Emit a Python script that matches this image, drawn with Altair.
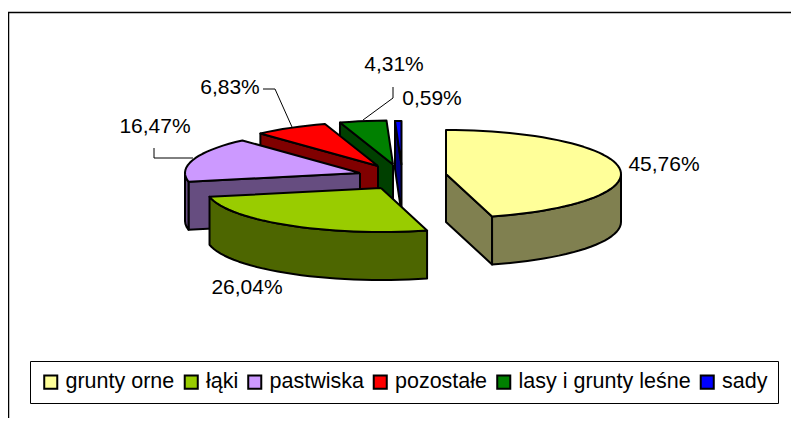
import math
import altair as alt
import pandas as pd

# Data
categories = ["grunty orne", "łąki", "pastwiska", "pozostałe", "lasy i grunty leśne", "sady"]
shares = [45.76, 26.04, 16.47, 6.83, 4.31, 0.59]
top_colors = ["#FFFF99", "#99CC00", "#CC99FF", "#FF0000", "#008000", "#0000FF"]
side_colors = ["#808050", "#4D6600", "#664D80", "#800000", "#004000", "#000080"]

# Layout of the exploded 3-D pie (page pixels)
centers = [(446, 174), (381, 188), (360, 173), (378, 166), (393, 164.5), (401.5, 165)]
A, B, DEPTH = 175, 44, 48
label_pos = [(664, 165), (247, 288), (155, 127), (230, 88), (394, 65), (432, 99)]
leaders = [
    [(263, 89), (275, 89), (292, 127)],
    [(154, 148), (154, 158), (193, 158)],
    [(393, 87), (393, 98), (363, 120)],
]
FONT = "Liberation Sans"
FS = 21
LEGEND_FS = 21.5
BOTTOM = 418
RIGHT = 791


def pt(c, deg, drop=0):
    r = math.radians(deg)
    return (c[0] + A * math.sin(r), c[1] - B * math.cos(r) + drop)


rows = []
poly_count = [0]


def add(key, points):
    pid = poly_count[0]
    poly_count[0] += 1
    pts = points + [points[0]]
    for i, (x, y) in enumerate(pts):
        rows.append({"poly": pid, "seq": i, "key": key, "x": x, "y": y})


bounds = []
cum = 0.0
for s in shares:
    bounds.append((cum * 3.6, (cum + s) * 3.6))
    cum += s

# Painter's order: from the back slice to the front, yellow last
for i in [5, 4, 3, 2, 1, 0]:
    c, (a0, a1), name = centers[i], bounds[i], categories[i]
    side = name + " (bok)"
    d = (c[0], c[1] + DEPTH)
    # only the radial walls that face the viewer
    if math.sin(math.radians(a0)) < 0:
        add(side, [c, pt(c, a0), pt(c, a0, DEPTH), d])
    if math.sin(math.radians(a1)) > 0:
        add(side, [c, pt(c, a1), pt(c, a1, DEPTH), d])
    lo, hi = max(a0, 90), min(a1, 270)
    if hi > lo:
        n = max(2, int((hi - lo) / 3))
        angs = [lo + (hi - lo) * k / n for k in range(n + 1)]
        add(side, [pt(c, t) for t in angs] + [pt(c, t, DEPTH) for t in reversed(angs)])
    n = max(2, int((a1 - a0) / 3))
    add(name, [c] + [pt(c, a0 + (a1 - a0) * k / n) for k in range(n + 1)])

df = pd.DataFrame(rows)

x_scale = alt.Scale(domain=[8, RIGHT], range=[0, RIGHT - 8])
y_scale = alt.Scale(domain=[8, BOTTOM], range=[0, BOTTOM - 8])
X = lambda f: alt.X(f, type="quantitative", scale=x_scale, axis=None)
Y = lambda f: alt.Y(f, type="quantitative", scale=y_scale, axis=None)

pie = alt.Chart(df).mark_line(
    filled=True, stroke="#000000", strokeWidth=2, strokeJoin="round"
).encode(
    x=X("x"),
    y=Y("y"),
    order="seq:Q",
    detail="poly:N",
    fill=alt.Fill(
        "key:N",
        scale=alt.Scale(
            domain=categories + [c + " (bok)" for c in categories],
            range=top_colors + side_colors,
        ),
        legend=alt.Legend(
            title=None,
            orient="none",
            legendX=22,
            legendY=353,
            direction="horizontal",
            columns=6,
            values=categories,
            symbolType="square",
            symbolSize=170,
            symbolStrokeColor="#000000",
            symbolStrokeWidth=2,
            symbolOpacity=1,
            labelFont=FONT,
            labelFontSize=LEGEND_FS,
            labelColor="#000000",
            labelOffset=4,
            labelLimit=300,
            columnPadding=5.5,
            padding=10,
            fillColor="#FFFFFF",
            strokeColor="#000000",
        ),
    ),
)

label_df = pd.DataFrame({
    "text": [f"{s:.2f}%".replace(".", ",") for s in shares],
    "x": [p[0] for p in label_pos],
    "y": [p[1] for p in label_pos],
})
labels = alt.Chart(label_df).mark_text(
    font=FONT, fontSize=FS, color="#000000", align="center", baseline="middle"
).encode(x=X("x"), y=Y("y"), text="text:N")

lead_df = pd.DataFrame([
    {"id": i, "seq": j, "x": x, "y": y}
    for i, line in enumerate(leaders)
    for j, (x, y) in enumerate(line)
])
lead = alt.Chart(lead_df).mark_line(color="#000000", strokeWidth=1).encode(
    x=X("x"), y=Y("y"), order="seq:Q", detail="id:N"
)

frame_df = pd.DataFrame([
    {"id": 0, "seq": 0, "x": 8.5, "y": BOTTOM},
    {"id": 0, "seq": 1, "x": 8.5, "y": 12.5},
    {"id": 0, "seq": 2, "x": RIGHT, "y": 12.5},
])
frame = alt.Chart(frame_df).mark_line(color="#000000", strokeWidth=1.5).encode(
    x=X("x"), y=Y("y"), order="seq:Q", detail="id:N"
)

chart = alt.layer(frame, pie, lead, labels).properties(
    width=RIGHT - 8, height=BOTTOM - 8, padding=0,
    autosize=alt.AutoSizeParams(type="none"),
).configure_view(stroke=None)

chart.save("out.html", embed_options={"renderer": "svg", "actions": False})
